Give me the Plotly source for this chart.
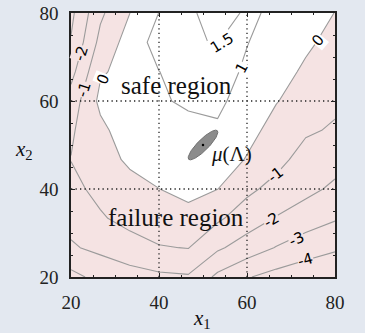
import numpy as np
import plotly.graph_objects as go

# ---- data -------------------------------------------------------------
x1_nodes = [20, 26.667, 33.333, 40, 46.667, 53.333, 60, 66.667, 73.333, 80]
x2_nodes = [20, 26.667, 33.333, 40, 46.667, 53.333, 60, 66.667, 73.333, 80]

# limit-state values g(x1, x2); one row per x2 node (bottom -> top)
g_row_20 = [-3.30, -2.675, -2.33, -2.19, -2.10, -3.22, -3.93, -4.35, -4.62, -4.84]
g_row_27 = [-2.10, -1.78, -1.51, -1.06, -0.97, -1.85, -2.46, -3.05, -3.53, -3.86]
g_row_33 = [-1.73, -1.13, -0.62, -0.45, -0.38, -0.85, -1.49, -2.06, -2.50, -2.91]
g_row_40 = [-1.30, -0.694, -0.352, -0.01, 0.32, 0.008, -0.80, -1.296, -1.74, -2.18]
g_row_47 = [-0.98, -0.42, 0.17, 0.45, 0.60, 0.55, -0.065, -0.716, -1.36, -1.65]
g_row_53 = [-1.12, -0.26, 0.595, 0.72, 0.80, 0.88, 0.31, -0.336, -0.878, -1.10]
g_row_60 = [-1.57, 0.235, 0.53, 0.92, 1.104, 1.18, 0.607, 0.04, -0.40, -0.84]
g_row_67 = [-2.33, -0.11, 0.31, 0.99, 1.30, 1.38, 0.857, 0.356, -0.145, -0.55]
g_row_73 = [-2.93, -0.715, 0.41, 1.40, 1.46, 1.52, 1.03, 0.59, 0.155, -0.27]
g_row_80 = [-3.23, -1.18, -0.012, 1.015, 1.39, 1.77, 1.415, 0.55, 0.27, -0.01]
g_grid = [g_row_20, g_row_27, g_row_33, g_row_40, g_row_47,
          g_row_53, g_row_60, g_row_67, g_row_73, g_row_80]

int_levels = [-4, -3, -2, -1, 0, 1]
extra_level = 1.5

# contour-label placement: level, x1, x2, angle
label_levels = [-2, -1, 0, 1.5, 1, 0, -1, -2, -3, -4]
label_x1 = [22.4, 22.8, 27.4, 54.3, 58.8, 76.2, 66.4, 65.6, 71.3, 73.2]
label_x2 = [70.8, 62.6, 64.9, 73.2, 67.5, 73.9, 43.2, 32.9, 28.7, 23.8]
label_angle = [-72, -72, -68, -32, -62, -50, -38, -30, -24, -16]

mu_lambda = [50, 50]
ellipse_semi_axes = [4.6, 1.25]
ellipse_angle_deg = 45

ticks = [20, 40, 60, 80]
grid_ticks = [40, 60]

PINK = "#f5e3e3"
BG = "#e3e8f0"
LINE = "#9b9b9b"
SERIF = "Liberation Serif, DejaVu Serif, serif"

fig = go.Figure()

fig.add_trace(go.Contour(
    x=x1_nodes, y=x2_nodes, z=g_grid,
    autocontour=False,
    contours=dict(start=int_levels[0], end=int_levels[-1], size=1,
                  coloring="fill", showlabels=False),
    colorscale=[[0, PINK], [0.75, PINK], [0.75, "white"], [1, "white"]],
    line=dict(color=LINE, width=1.1, smoothing=0),
    showscale=False, hoverinfo="skip"))

fig.add_trace(go.Contour(
    x=x1_nodes, y=x2_nodes, z=g_grid,
    autocontour=False,
    contours=dict(start=extra_level, end=extra_level, size=1,
                  coloring="none", showlabels=False),
    line=dict(color=LINE, width=1.1, smoothing=0),
    showscale=False, hoverinfo="skip"))

# ellipse around mu(Lambda)
t = np.linspace(0, 2 * np.pi, 120)
th = np.deg2rad(ellipse_angle_deg)
ea, eb = ellipse_semi_axes
ex = mu_lambda[0] + ea * np.cos(t) * np.cos(th) - eb * np.sin(t) * np.sin(th)
ey = mu_lambda[1] + ea * np.cos(t) * np.sin(th) + eb * np.sin(t) * np.cos(th)
fig.add_trace(go.Scatter(x=ex, y=ey, mode="lines", fill="toself",
                         fillcolor="#8c8c8c", line=dict(color="#707070", width=1),
                         hoverinfo="skip", showlegend=False))
fig.add_trace(go.Scatter(x=[mu_lambda[0]], y=[mu_lambda[1]], mode="markers",
                         marker=dict(color="black", size=2.5),
                         hoverinfo="skip", showlegend=False))

# dotted grid lines above the fill
shapes = []
for v in grid_ticks:
    shapes.append(dict(type="line", xref="x", yref="y", x0=v, x1=v, y0=ticks[0], y1=ticks[-1],
                       line=dict(color="#222", width=1.3, dash="1.3px,3.2px"), layer="above"))
    shapes.append(dict(type="line", xref="x", yref="y", y0=v, y1=v, x0=ticks[0], x1=ticks[-1],
                       line=dict(color="#222", width=1.3, dash="1.3px,3.2px"), layer="above"))

annotations = []
for lev, lx, ly, ang in zip(label_levels, label_x1, label_x2, label_angle):
    txt = ("%g" % lev)
    bg = PINK if lev < 0 else "white"
    annotations.append(dict(x=lx, y=ly, xref="x", yref="y", text=txt, showarrow=False,
                            textangle=ang, font=dict(family="DejaVu Sans", size=15, color="black"),
                            bgcolor=bg, borderpad=0))

annotations += [
    dict(x=43.9, y=63.6, xref="x", yref="y", text="safe region", showarrow=False,
         font=dict(family=SERIF, size=25, color="#111")),
    dict(x=43.9, y=33.5, xref="x", yref="y", text="failure region", showarrow=False,
         font=dict(family=SERIF, size=25, color="#111")),
    dict(x=51.4, y=48.0, xref="x", yref="y", text="<i>μ</i>(Λ)", showarrow=False,
         xanchor="left", font=dict(family=SERIF, size=21, color="#111")),
    dict(x=0.498, y=-0.158, xref="paper", yref="paper", text="<i>x</i><sub>1</sub>",
         showarrow=False, xanchor="center", yanchor="middle",
         font=dict(family=SERIF, size=21, color="#111")),
    dict(x=-0.178, y=0.481, xref="paper", yref="paper", text="<i>x</i><sub>2</sub>",
         showarrow=False, xanchor="center", yanchor="middle",
         font=dict(family=SERIF, size=21, color="#111")),
]

axis_common = dict(range=[ticks[0], ticks[-1]], tickvals=ticks, ticks="inside", ticklen=4,
                   tickcolor="#222", showgrid=False, zeroline=False, showline=True,
                   linecolor="#222", linewidth=1.5, mirror="ticks", automargin=False,
                   tickfont=dict(family=SERIF, size=19, color="#222"),
                   ticklabelstandoff=7,
                   minor=dict(ticks="inside", ticklen=2, dtick=5, tickcolor="#222"))

fig.update_layout(
    width=365, height=333,
    margin=dict(l=71, r=30, t=13, b=56),
    paper_bgcolor=BG, plot_bgcolor=PINK,
    showlegend=False,
    xaxis=axis_common, yaxis=axis_common,
    shapes=shapes, annotations=annotations,
)

fig.write_html("out.html", config={"displayModeBar": False},
               post_script="document.body.style.margin='0px';document.body.style.padding='0px';"
                           "document.body.style.background='%s';" % BG)
